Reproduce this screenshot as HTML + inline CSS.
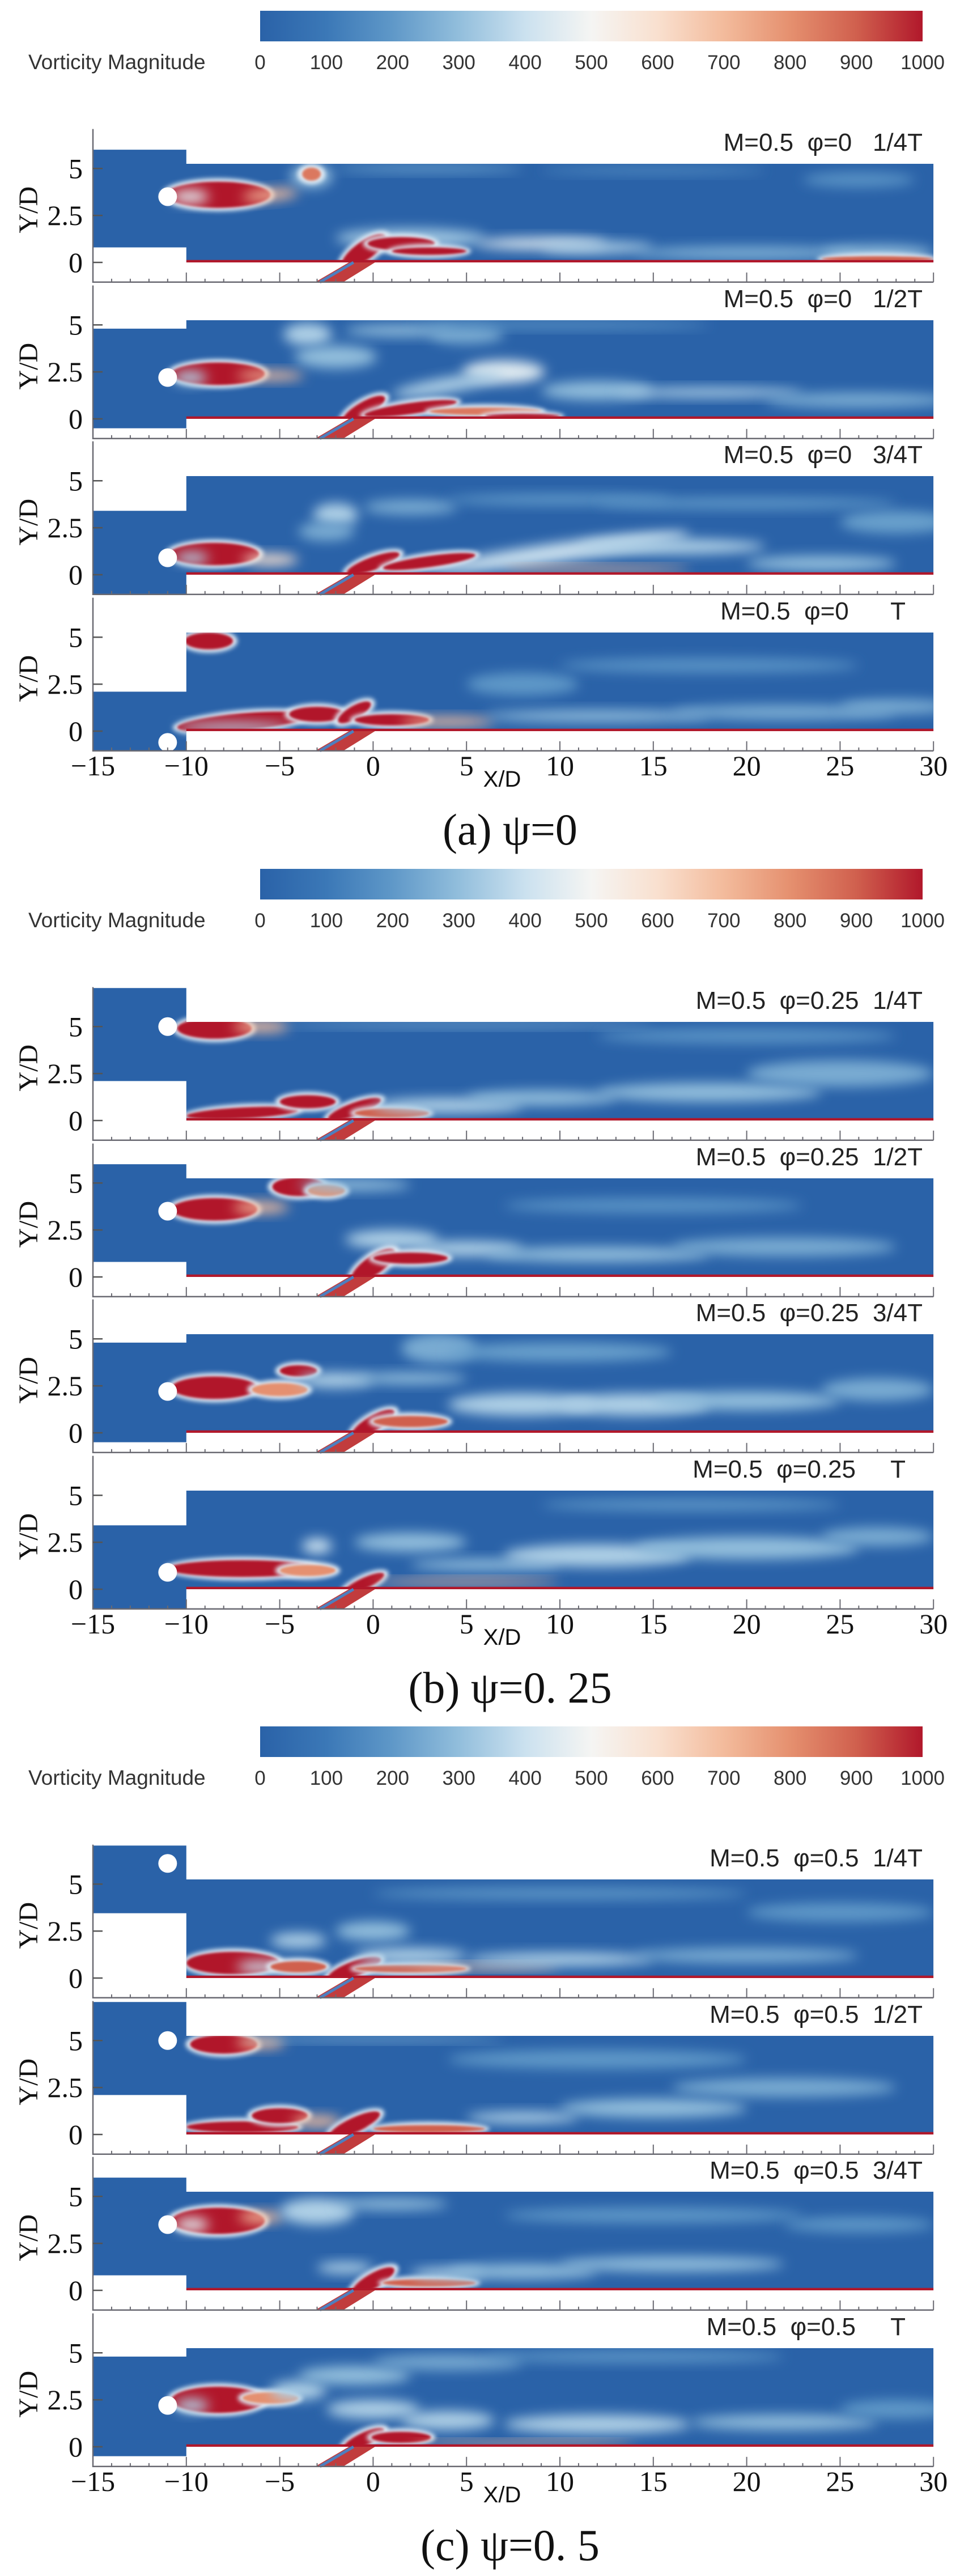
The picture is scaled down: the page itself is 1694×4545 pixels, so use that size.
<!DOCTYPE html>
<html><head><meta charset="utf-8">
<style>
html,body{margin:0;padding:0;background:#fff;}
svg{display:block;}
</style></head>
<body>
<svg id="fig" xmlns="http://www.w3.org/2000/svg" width="1694" height="4545" viewBox="0 0 1694 4545">
<defs>
<linearGradient id="cbar" x1="0" x2="1" y1="0" y2="0">
<stop offset="0" stop-color="#2a62a8"/><stop offset="0.1" stop-color="#3b78b7"/><stop offset="0.2" stop-color="#5f98c8"/><stop offset="0.3" stop-color="#92bedc"/><stop offset="0.4" stop-color="#cbe1ef"/><stop offset="0.5" stop-color="#f5f5f3"/><stop offset="0.6" stop-color="#f9e0cf"/><stop offset="0.7" stop-color="#f3bb9c"/><stop offset="0.8" stop-color="#e5906f"/><stop offset="0.9" stop-color="#d0604e"/><stop offset="1" stop-color="#b1182b"/>
</linearGradient>
<filter id="bs" x="-60%" y="-60%" width="220%" height="220%"><feGaussianBlur stdDeviation="2"/></filter>
<filter id="bh" x="-60%" y="-60%" width="220%" height="220%"><feGaussianBlur stdDeviation="4"/></filter>
<filter id="bm" x="-80%" y="-80%" width="260%" height="260%"><feGaussianBlur stdDeviation="11"/></filter>
</defs>
<g id="root"></g>
</svg>
<script>
// ---------- data ----------
const colorbarTicks = [0,100,200,300,400,500,600,700,800,900,1000];
const xTicks = [-15,-10,-5,0,5,10,15,20,25,30];
const xTickLabels = ["−15","−10","−5","0","5","10","15","20","25","30"];
const yTicks = [0,2.5,5];
const yTickLabels = ["0","2.5","5"];
const sectionCaptions = ["(a) ψ=0","(b) ψ=0. 25","(c) ψ=0. 5"];
const phaseLabels = [
 ["M=0.5  φ=0   1/4T","M=0.5  φ=0   1/2T","M=0.5  φ=0   3/4T","M=0.5  φ=0      T"],
 ["M=0.5  φ=0.25  1/4T","M=0.5  φ=0.25  1/2T","M=0.5  φ=0.25  3/4T","M=0.5  φ=0.25     T"],
 ["M=0.5  φ=0.5  1/4T","M=0.5  φ=0.5  1/2T","M=0.5  φ=0.5  3/4T","M=0.5  φ=0.5     T"]
];
const blockLow  = [3.45, 2.1, 0.8, -0.5, -1.05, -1.05];
const blockHigh = [7.05, 7.05, 6.0, 4.8, 3.4, 2.1];
const cylinderY = [6.1, 5.0, 3.5, 2.2, 0.9, -0.6];
const panelGeometry = [[2,3,4,5],[1,2,3,4],[0,1,2,3]];
// blobs: [x, y, rx, ry, vorticity, rotationDeg]
const blobsA1 = [[-8.3,3.6,2.8,0.7,1000,0],[-9.8,3.5,1.0,0.35,450,0],[-5.5,3.6,1.5,0.3,700,5],[-3.3,4.6,1.1,0.6,320,0],[-3.3,4.7,0.5,0.35,850,0],[3,5.0,5,0.2,220,0],[15,4.9,6,0.2,160,0],[26,4.4,3,0.4,180,0],[2,1.3,4,0.5,320,0],[-0.5,0.6,1.4,0.5,1000,35],[1.5,1.0,1.8,0.35,1000,0],[3,0.6,2,0.2,1000,0],[9,1.0,3.5,0.3,450,0],[12,0.8,3,0.3,350,0],[20,0.5,6,0.35,260,0],[27,0.5,3,0.4,300,0],[27,0.18,3,0.15,900,0]];
const blobsA2 = [[-8.3,2.4,2.5,0.6,1000,0],[-9.8,2.2,0.9,0.35,350,0],[-5.5,2.3,1.8,0.25,700,0],[-3.5,4.5,1.3,0.6,350,0],[-2,3.3,2.2,0.6,300,0],[1.5,4.7,3,0.3,300,0],[5,4.5,2,0.5,250,0],[10,5.0,8,0.2,200,0],[7,2.5,2.2,0.6,450,0],[4,1.8,3,0.4,350,10],[12,1.5,3,0.5,300,0],[18,1.4,5,0.25,350,0],[26,1.0,5,0.4,250,0],[-0.5,0.5,1.3,0.4,1000,30],[2,0.55,2.5,0.3,1000,8],[6,0.4,3,0.2,850,0],[8,0.15,2,0.12,1000,0]];
const blobsA3 = [[-8.5,1.1,2.4,0.6,1000,0],[-9.7,0.9,0.9,0.3,350,0],[-5.5,0.8,1.5,0.3,600,0],[-2,3.2,1.2,0.6,350,0],[-2.5,2.3,1.5,0.5,250,0],[2,3.6,2.5,0.4,250,0],[10,4,6,0.3,200,0],[20,3.8,8,0.3,200,0],[28,2.8,3,0.6,220,0],[10,1.2,7,0.5,400,8],[16,1.5,5,0.4,350,0],[0,0.6,1.5,0.35,1000,20],[3,0.7,2.5,0.3,1000,8],[12,0.3,5,0.15,700,0],[24,0.6,4,0.4,300,0]];
const blobsA4 = [[-8.8,4.8,1.3,0.45,1000,0],[-7,0.5,3.5,0.45,1000,5],[-7.5,0.2,3,0.25,350,0],[-3,0.9,1.5,0.4,1000,0],[-1,1.0,1,0.35,1000,30],[1,0.6,2,0.3,1000,0],[4,0.5,2.5,0.25,700,0],[12,0.8,6,0.3,300,0],[22,1,6,0.4,250,0],[28,1.3,3,0.4,250,0],[8,2.5,3,0.6,200,0],[18,3.5,8,0.4,180,0]];
const blobsB1 = [[-8.5,4.9,2,0.55,1000,0],[-6,5,1.5,0.3,700,0],[5,5.1,10,0.15,250,0],[-7,0.4,3,0.3,1000,3],[-3.5,1.0,1.5,0.35,1000,0],[-1,0.6,1.5,0.35,1000,20],[1,0.4,2,0.25,900,0],[4,0.8,4,0.4,350,0],[9,1.2,4,0.4,300,0],[18,1.5,6,0.5,300,0],[25,2.5,5,0.7,250,0],[20,4.5,8,0.4,180,0]];
const blobsB2 = [[-8.5,3.6,2.3,0.6,1000,0],[-6,3.7,1.5,0.3,700,0],[-4,4.8,1.4,0.5,1000,0],[-2.5,4.6,1,0.3,800,0],[-1,4.9,3,0.3,300,0],[1,2.0,2.5,0.5,350,0],[5,1.5,3,0.4,350,0],[0,0.6,1.4,0.5,1000,35],[2,1.0,2,0.3,1000,0],[12,1.2,6,0.4,300,0],[22,1.6,6,0.5,250,0],[15,3.8,8,0.4,180,0]];
const blobsB3 = [[-8.5,2.4,2.3,0.6,1000,0],[-4,3.3,1,0.3,1000,0],[-5,2.3,1.5,0.35,800,0],[-2,2.8,2,0.4,350,0],[2,2.9,3,0.3,300,0],[3.5,4.5,2,0.8,250,0],[10,4.3,6,0.5,220,0],[0,0.5,1.3,0.4,1000,30],[2,0.6,2,0.3,900,0],[8,1.5,4,0.6,350,0],[14,1.5,4,0.6,350,0],[20,1.7,5,0.5,300,0],[27,2.3,3,0.6,250,0]];
const blobsB4 = [[-7,1.1,4,0.45,1000,0],[-3.5,1.0,1.5,0.3,800,0],[-3,2.3,0.8,0.4,400,0],[2,2.5,3,0.5,300,0],[6,1.3,4,0.3,300,0],[12,1.8,5,0.6,350,0],[20,2.2,6,0.6,300,0],[27,2.8,3,0.5,250,0],[17,4.5,8,0.3,200,0],[-0.5,0.3,1.2,0.3,1000,25],[5,0.4,5,0.15,700,0]];
const blobsC1 = [[-7.5,0.8,2.5,0.6,1000,0],[-6,0.6,1.3,0.3,400,0],[-4,0.6,1.5,0.3,900,0],[-1,0.5,1.5,0.4,1000,20],[2,0.5,3,0.2,900,0],[6,0.6,4,0.15,700,0],[-4,2.0,1.5,0.4,350,0],[0,2.5,2,0.5,300,0],[2,1.2,3,0.4,350,0],[10,1,5,0.35,350,0],[20,1.2,6,0.4,250,0],[10,4.5,10,0.3,200,0],[25,3.5,5,0.5,200,0]];
const blobsC2 = [[-8,4.8,1.8,0.5,1000,0],[-6,4.9,1.3,0.3,700,0],[0,5.1,7,0.15,250,0],[-7,0.4,3,0.3,1000,0],[-5,1.0,1.5,0.4,1000,0],[-3,0.7,1.3,0.3,700,0],[-1,0.5,1.5,0.4,1000,25],[3,0.3,3,0.2,900,0],[8,0.9,3,0.3,350,0],[15,1.4,5,0.5,300,0],[22,2.5,6,0.5,250,0],[12,4,8,0.5,200,0]];
const blobsC3 = [[-8.3,3.7,2.5,0.7,1000,0],[-9.7,3.5,0.9,0.35,450,0],[-6,3.9,1.2,0.3,700,0],[-3,4.2,2,0.7,350,0],[1,4.6,3,0.3,300,0],[-1.5,1.2,1.5,0.3,350,0],[0,0.5,1.3,0.4,1000,30],[3,0.4,2.5,0.2,900,0],[4,0.9,2,0.3,350,0],[8,1.0,4,0.4,300,0],[16,1.4,6,0.4,300,0],[15,4,8,0.4,200,0],[26,3.5,4,0.4,200,0]];
const blobsC4 = [[-8.3,2.5,2.5,0.7,1000,0],[-9.7,2.2,0.9,0.35,350,0],[-5.5,2.6,1.5,0.3,800,0],[-4,3.0,1.5,0.5,350,0],[-1,3.8,3,0.5,300,0],[4,4.5,4,0.4,250,0],[0,2.0,2.5,0.5,350,0],[4,1.4,2.5,0.5,350,0],[12,1.2,5,0.5,350,0],[22,1.3,5,0.4,300,0],[28,2,3,0.5,200,0],[14,4.8,8,0.3,200,0],[-0.5,0.4,1.2,0.35,1000,25],[1.5,0.5,1.6,0.3,1000,0],[8,0.2,6,0.12,700,0]];
const panelBlobs = [[blobsA1,blobsA2,blobsA3,blobsA4],[blobsB1,blobsB2,blobsB3,blobsB4],[blobsC1,blobsC2,blobsC3,blobsC4]];

// ---------- layout ----------
const NS="http://www.w3.org/2000/svg";
const SX=32.96, X0=164, SY=33.15;
const sectionTop=[0,1514,3027];
const panelBase=[463,739,1014,1290];
function px(x){return X0+(x+15)*SX;}
function py(y,b){return b-y*SY;}
const stops=[[0,[42,98,168]],[100,[59,120,183]],[200,[95,152,200]],[300,[146,190,220]],[400,[203,225,239]],[500,[245,245,243]],[600,[249,224,207]],[700,[243,187,156]],[800,[229,144,111]],[900,[208,96,78]],[1000,[177,24,43]]];
function cmap(v){v=Math.max(0,Math.min(1000,v));for(let i=0;i<stops.length-1;i++){const a=stops[i],b=stops[i+1];if(v<=b[0]){const t=(v-a[0])/(b[0]-a[0]);return 'rgb('+a[1].map((c,k)=>Math.round(c+(b[1][k]-c)*t)).join(',')+')';}}return 'rgb(177,24,43)';}
function el(tag,attrs,parent){const e=document.createElementNS(NS,tag);for(const k in attrs)e.setAttribute(k,attrs[k]);parent.appendChild(e);return e;}
const root=document.getElementById('root');
const serif='"Liberation Serif", serif';
const sans='"Liberation Sans", sans-serif';
const narrow='"Liberation Sans Narrow", "Liberation Sans", sans-serif';

sectionTop.forEach((st,s)=>{
  const sec=el('g',{},root);
  
  
  const cb=el('rect',{x:459,y:st+19,width:1169,height:54,fill:'url(#cbar)'},sec);
  
  
  const cbt=el('text',{x:50,y:st+122,'font-family':sans,'font-size':37,fill:'#333'},sec);
  cbt.textContent='Vorticity Magnitude';
  
  
  colorbarTicks.forEach(v=>{
    const t=el('text',{x:459+v/1000*1169,y:st+122,'font-family':sans,'font-size':35,fill:'#333','text-anchor':'middle'},sec);
    t.textContent=String(v);
    
    
  });
  for(let p=0;p<4;p++){
    const base=st+panelBase[p];
    const g=panelGeometry[s][p];
    const pg=el('g',{},sec);
    
    
    const cid='clip'+s+'_'+p;
    const cp=el('clipPath',{id:cid},pg);
    el('rect',{x:px(-15),y:py(blockHigh[g],base),width:5*SX,height:(blockHigh[g]-blockLow[g])*SY},cp);
    el('rect',{x:px(-10),y:py(5.25,base),width:40*SX,height:5.25*SY},cp);
    const field=el('g',{'clip-path':'url(#'+cid+')'},pg);
    
    
    el('rect',{x:px(-15),y:py(8,base),width:45*SX,height:10*SY,fill:cmap(0)},field);
    panelBlobs[s][p].forEach(b=>{
      const cx=px(b[0]),cy=py(b[1],base);
      const tr='rotate('+(-b[5])+' '+cx+' '+cy+')';
      if(b[4]>=800){
        el('ellipse',{cx:cx,cy:cy,rx:b[2]*SX+8,ry:b[3]*SY+6,fill:'#dfeaf4',filter:'url(#bh)',transform:tr},field);
      }
      const e=el('ellipse',{cx:cx,cy:cy,rx:b[2]*SX,ry:b[3]*SY,fill:cmap(b[4]),filter:b[4]>=800?'url(#bs)':'url(#bm)',transform:tr},field);
      
      
    });
    const wall=el('rect',{x:px(-10),y:py(0.13,base),width:40*SX,height:0.13*SY,fill:cmap(1000)},field);
    
    
    const r=[[-3.1,-1.05],[-1.6,-1.05],[0.1,0],[-1.3,0]];
    const ramp=el('polygon',{points:r.map(q=>px(q[0])+','+py(q[1],base)).join(' '),fill:cmap(950)},pg);
    
    
    el('line',{x1:px(-2.85),y1:py(-1.05,base),x2:px(-1.05),y2:py(0,base),stroke:'#4d7fbf','stroke-width':5},pg);
    const cyl=el('circle',{cx:px(-11),cy:py(cylinderY[g],base),r:0.5*SX,fill:'#fff'},pg);
    
    
    const ax=el('path',{d:'M'+X0+' '+py(7.1,base)+' V'+py(-1.05,base)+' H'+px(30),stroke:'#6a6a72','stroke-width':2.5,fill:'none'},pg);
    
    
    for(let x=-15;x<=30;x++){
      const major=x%5===0;
      el('line',{x1:px(x),x2:px(x),y1:py(-1.05,base),y2:py(-1.05,base)-(major?17:6),stroke:'#6a6a72','stroke-width':2},pg);
    }
    yTicks.forEach((y,i)=>{
      el('line',{x1:X0,x2:X0+17,y1:py(y,base),y2:py(y,base),stroke:'#555','stroke-width':2.5},pg);
      const t=el('text',{x:146,y:py(y,base)+17,'font-family':serif,'font-size':50,'text-anchor':'end',fill:'#111'},pg);
      t.textContent=yTickLabels[i];
      
      
    });
    const yl=el('text',{x:0,y:0,'font-family':serif,'font-size':48,'text-anchor':'middle',fill:'#111',transform:'translate(66 '+py(2.8,base)+') rotate(-90)'},pg);
    yl.textContent='Y/D';
    
    
    const isT=p===3;
    const lab=el('text',{x:isT?1598:1628,y:base-197,'font-family':narrow,'font-size':44,'text-anchor':'end',fill:'#222'},pg);
    lab.setAttribute('style','white-space:pre');
    lab.textContent=phaseLabels[s][p];
    
    
  }
  xTicks.forEach((x,i)=>{
    const t=el('text',{x:px(x),y:st+1368,'font-family':serif,'font-size':50,'text-anchor':'middle',fill:'#111'},sec);
    t.textContent=xTickLabels[i];
    
    
  });
  const xl=el('text',{x:886,y:st+1388,'font-family':narrow,'font-size':40,'text-anchor':'middle',fill:'#111'},sec);
  xl.textContent='X/D';
  
  
  const cap=el('text',{x:900,y:st+1490,'font-family':'"Liberation Serif", "Noto Serif CJK SC", serif','font-size':78,'text-anchor':'middle',fill:'#111'},sec);
  cap.textContent=sectionCaptions[s];
  
  
});
</script>
</body></html>
